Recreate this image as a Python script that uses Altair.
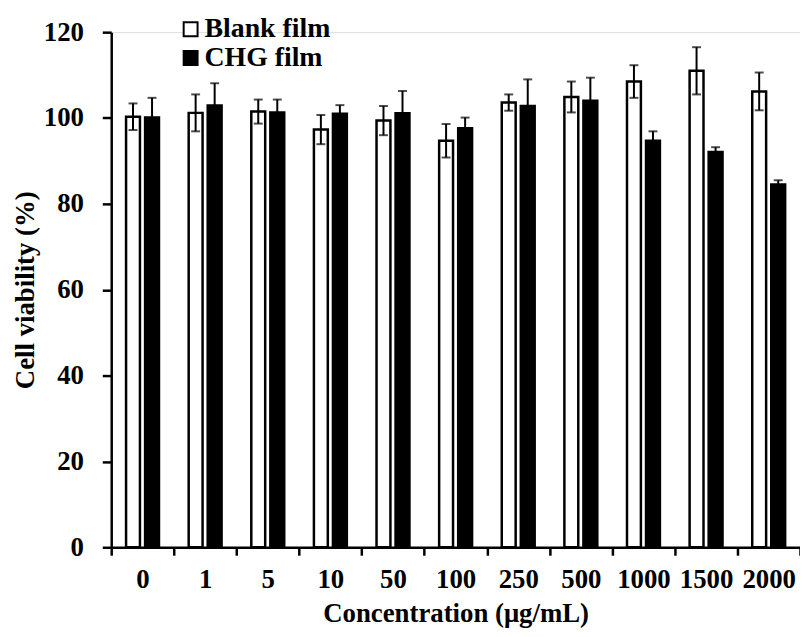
import altair as alt
import pandas as pd

concentrations = ["0", "1", "5", "10", "50", "100", "250", "500", "1000", "1500", "2000"]
series_names = ["Blank film", "CHG film"]
blank_values = [100.3, 101.2, 101.5, 97.3, 99.4, 94.7, 103.6, 104.9, 108.5, 111.0, 106.2]
blank_errors = [3.1, 4.3, 2.8, 3.4, 3.4, 3.9, 1.9, 3.6, 3.8, 5.5, 4.4]
chg_values = [100.1, 102.9, 101.3, 101.0, 101.1, 97.6, 102.8, 104.0, 94.7, 92.1, 84.5]
chg_errors = [4.6, 5.2, 3.0, 2.0, 5.2, 2.5, 6.2, 5.4, 2.2, 1.1, 1.0]

rows = []
for c, v, e in zip(concentrations, blank_values, blank_errors):
    rows.append({"conc": c, "series": series_names[0], "value": v, "lo": v - e, "hi": v + e})
for c, v, e in zip(concentrations, chg_values, chg_errors):
    rows.append({"conc": c, "series": series_names[1], "value": v, "lo": v - e, "hi": v + e})
df = pd.DataFrame(rows)

FONT = "Liberation Serif"

x_enc = alt.X(
    "conc:N",
    sort=concentrations,
    scale=alt.Scale(paddingInner=0, paddingOuter=0),
    axis=alt.Axis(
        title="Concentration (μg/mL)",
        labelAngle=0,
        tickBand="extent",
        tickSize=8,
        tickWidth=2.5,
        domainWidth=2.5,
        domainColor="black",
        tickColor="black",
        labelFont=FONT,
        labelFontSize=27,
        labelFontWeight="bold",
        labelColor="black",
        labelPadding=12,
        titleFont=FONT,
        titleFontSize=27,
        titleFontWeight="bold",
        titleColor="black",
        titlePadding=8,
        grid=False,
    ),
)
xoff = alt.XOffset(
    "series:N",
    sort=series_names,
    scale=alt.Scale(domain=series_names, paddingInner=0.27, paddingOuter=0.78),
)
y_scale = alt.Scale(domain=[0, 120], nice=False)

bars = alt.Chart(df).mark_bar(stroke="black", strokeWidth=2.5).encode(
    x=x_enc,
    xOffset=xoff,
    y=alt.Y(
        "value:Q",
        scale=y_scale,
        axis=alt.Axis(
            title="Cell viability (%)",
            values=[0, 20, 40, 60, 80, 100, 120],
            tickSize=9,
            tickWidth=2.5,
            domainWidth=2.5,
            domainColor="black",
            tickColor="black",
            labelFont=FONT,
            labelFontSize=27,
            labelFontWeight="bold",
            labelColor="black",
            labelPadding=19,
            titleFont=FONT,
            titleFontSize=27,
            titleFontWeight="bold",
            titleColor="black",
            titlePadding=4,
            grid=False,
        ),
    ),
    fill=alt.Fill(
        "series:N",
        scale=alt.Scale(domain=series_names, range=["white", "black"]),
        legend=alt.Legend(
            title=None,
            orient="none",
            legendX=66,
            legendY=-17,
            symbolType="square",
            symbolSize=196,
            symbolStrokeColor="black",
            symbolStrokeWidth=2,
            labelFont=FONT,
            labelFontSize=28,
            labelFontWeight="bold",
            labelColor="black",
            labelOffset=0,
            rowPadding=1,
            padding=0,
        ),
    ),
)

rules = alt.Chart(df).mark_rule(color="black", strokeWidth=2).encode(
    x=alt.X("conc:N", sort=concentrations),
    xOffset=xoff,
    y=alt.Y("lo:Q", scale=y_scale),
    y2="hi:Q",
)

caps_hi = alt.Chart(df).mark_tick(color="black", thickness=2, size=9).encode(
    x=alt.X("conc:N", sort=concentrations),
    xOffset=xoff,
    y=alt.Y("hi:Q", scale=y_scale),
)
caps_lo = alt.Chart(df).mark_tick(color="black", thickness=2, size=9).encode(
    x=alt.X("conc:N", sort=concentrations),
    xOffset=xoff,
    y=alt.Y("lo:Q", scale=y_scale),
)

chart = alt.layer(bars, rules, caps_hi, caps_lo).properties(
    width=694,
    height=519,
    autosize=alt.AutoSizeParams(type="none"),
    padding={"left": 104, "top": 22, "right": 0, "bottom": 80},
).configure_view(stroke=None).configure(background="white")

chart.save("out.html", embed_options={"renderer": "svg", "actions": False})
